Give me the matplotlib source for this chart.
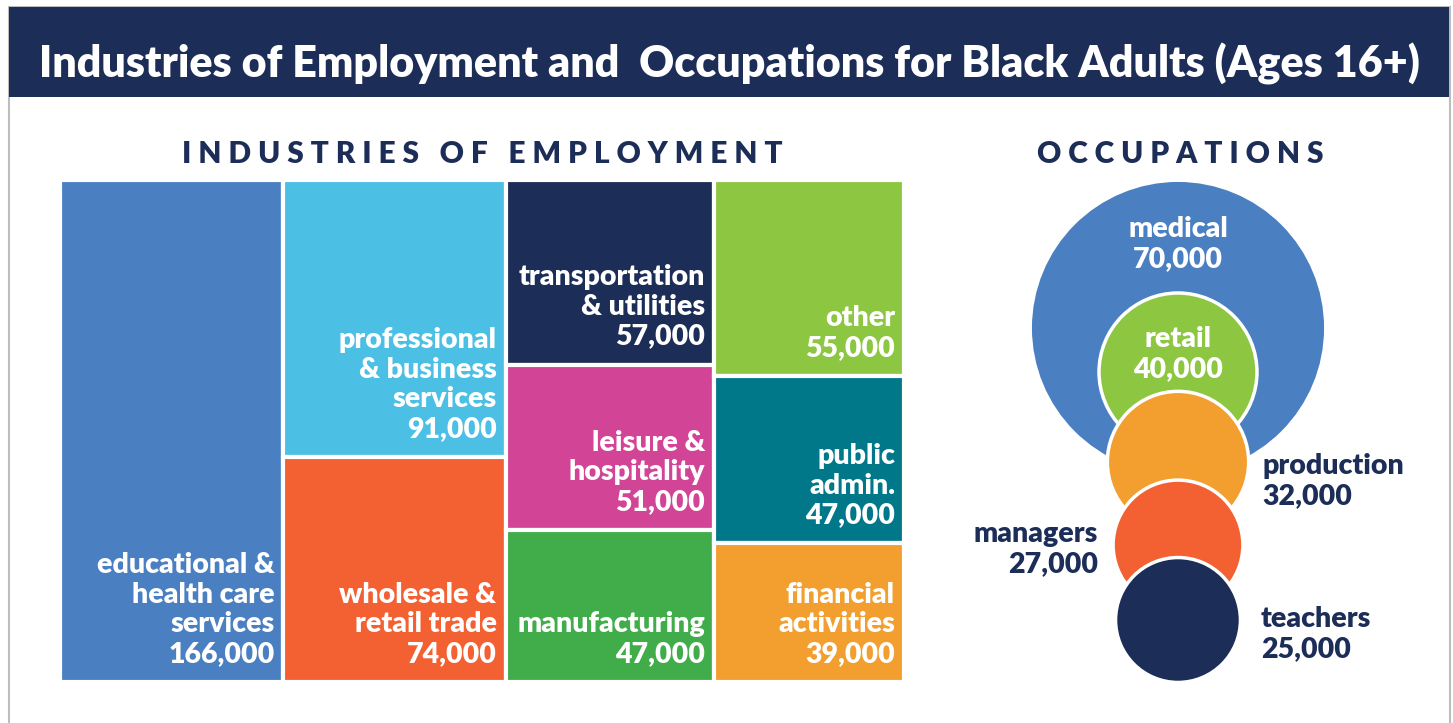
import matplotlib.pyplot as plt
from matplotlib.patches import Rectangle, Circle
import numpy as np

# data
industries = ["educational &\nhealth care\nservices", "professional\n& business\nservices",
              "wholesale &\nretail trade", "transportation\n& utilities", "leisure &\nhospitality",
              "manufacturing", "other", "public\nadmin.", "financial\nactivities"]
industry_jobs = [166000, 91000, 74000, 57000, 51000, 47000, 55000, 47000, 39000]
industry_columns = [[0], [1, 2], [3, 4, 5], [6, 7, 8]]   # how the blocks are stacked
industry_colors = ["#4a80c2", "#4bbfe4", "#f36032", "#1c2d57", "#d24495",
                   "#41ad4a", "#8dc641", "#00788a", "#f29f2f"]

occupations = ["medical", "retail", "production", "managers", "teachers"]
occupation_jobs = [70000, 40000, 32000, 27000, 25000]
occupation_colors = ["#4a80c2", "#8dc641", "#f29f2f", "#f36032", "#1c2d57"]

NAVY = "#1c2d57"
FONT = "Lato"
W = 800   # heavy weight, closest to the original bold face

fig = plt.figure(figsize=(14.53, 7.23), dpi=100)
ax = fig.add_axes([0, 0, 1, 1])
ax.set_xlim(0, 1453)
ax.set_ylim(723, 0)
ax.axis("off")

# frame + title bar
ax.add_patch(Rectangle((8.5, 6.5), 1441, 730, facecolor="white", edgecolor="#bdbdbd", lw=1.5))
ax.add_patch(Rectangle((9, 7), 1440, 90, facecolor=NAVY, edgecolor="none"))
ax.text(729, 64, "Industries of Employment and  Occupations for Black Adults (Ages 16+)",
        color="white", fontsize=31, fontweight=W, family=FONT, ha="center", va="center")

ax.text(482, 154, "I N D U S T R I E S   O F   E M P L O Y M E N T", color=NAVY,
        fontsize=21.5, fontweight=W, family=FONT, ha="center", va="center")
ax.text(1180, 154, "O C C U P A T I O N S", color=NAVY,
        fontsize=21.5, fontweight=W, family=FONT, ha="center", va="center")

# treemap: column widths ~ column totals, block heights ~ share within column
x0, x1, y0, y1 = 60, 904, 180, 682
total = sum(industry_jobs)
x = x0
for col in industry_columns:
    col_sum = sum(industry_jobs[i] for i in col)
    w = (x1 - x0) * col_sum / total
    y = y0
    for i in col:
        h = (y1 - y0) * industry_jobs[i] / col_sum
        ax.add_patch(Rectangle((x, y), w, h, facecolor=industry_colors[i],
                               edgecolor="white", lw=3))
        ax.text(x + w - 9, y + h - 15, industries[i] + "\n" + f"{industry_jobs[i]:,}",
                color="white", fontsize=20.5, fontweight=W, family=FONT,
                ha="right", va="bottom", multialignment="right", linespacing=1.17)
        y += h
    x += w

# occupations: stacked circles, radius ~ sqrt(jobs); outer medical ring enlarged to hold retail
k = 0.395
radii = [k * np.sqrt(v) for v in occupation_jobs]
radii[0] = k * np.sqrt(2 * occupation_jobs[0])
cx = 1178
cys = [328, 372, 462, 545, 620]
for r, cy, c in zip(radii, cys, occupation_colors):
    ax.add_patch(Circle((cx, cy), r, facecolor=c, edgecolor="white", lw=2.5))

occ_text = [o + "\n" + f"{v:,}" for o, v in zip(occupations, occupation_jobs)]
label_pos = [(cx, 244, "center", "white"), (cx, 354, "center", "white"),
             (1262, 481, "left", NAVY), (1098, 549, "right", NAVY),
             (1261, 634, "left", NAVY)]
for t, (tx, ty, ha, col) in zip(occ_text, label_pos):
    ax.text(tx, ty, t, color=col, fontsize=20.5, fontweight=W, family=FONT,
            ha=ha, va="center", multialignment=ha, linespacing=1.17)

fig.savefig("out.png", dpi=100)
